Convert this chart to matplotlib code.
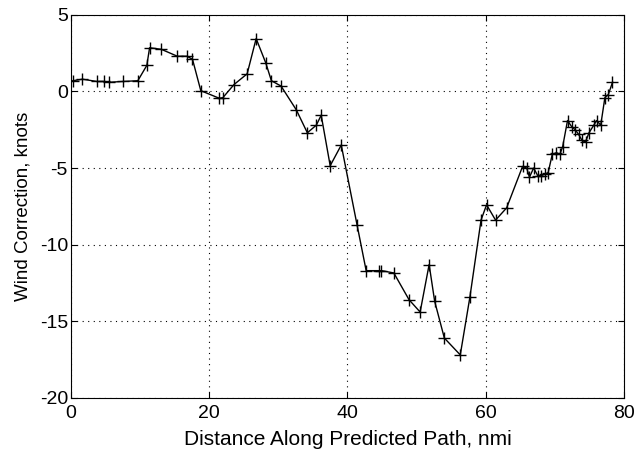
import matplotlib
matplotlib.use("Agg")
import matplotlib.pyplot as plt

# distance along path (nmi) and wind correction (knots)
distance = [0.3, 1.7, 3.8, 4.8, 5.6, 7.5, 9.7, 11.0, 11.4, 13.1, 15.4, 16.8,
            17.6, 18.8, 21.5, 22.0, 23.6, 25.5, 26.8, 28.2, 29.0, 30.4, 32.6,
            34.2, 35.5, 36.2, 37.5, 39.1, 41.4, 42.7, 44.6, 44.9, 46.7, 48.9,
            50.5, 51.8, 52.6, 54.0, 56.3, 57.7, 59.3, 60.1, 61.4, 63.0, 65.3,
            65.9, 66.3, 66.9, 67.5, 68.0, 68.5, 69.0, 69.6, 70.2, 70.7, 71.1,
            71.8, 72.4, 72.9, 73.4, 73.9, 74.4, 74.9, 75.6, 76.0, 76.6, 77.2,
            77.7, 78.3]
correction = [0.7, 0.8, 0.65, 0.65, 0.6, 0.65, 0.7, 1.7, 2.85, 2.75, 2.3, 2.3,
              2.1, 0.05, -0.45, -0.4, 0.45, 1.15, 3.45, 1.85, 0.7, 0.35, -1.2,
              -2.7, -2.2, -1.55, -4.85, -3.5, -8.75, -11.7, -11.7, -11.7,
              -11.85, -13.6, -14.4, -11.3, -13.7, -16.1, -17.2, -13.4, -8.4,
              -7.4, -8.4, -7.6, -4.9, -5.0, -5.6, -5.0, -5.5, -5.5, -5.4, -5.3,
              -4.1, -4.0, -4.1, -3.6, -1.9, -2.3, -2.5, -2.8, -3.2, -3.3, -2.7,
              -2.2, -1.9, -2.2, -0.4, -0.2, 0.6]

plt.rcParams['font.family'] = ['Liberation Sans', 'DejaVu Sans']
plt.rcParams['axes.unicode_minus'] = False

fig = plt.figure(figsize=(6.37, 4.5), dpi=100)
ax = fig.add_axes([0.111, 0.116, 0.869, 0.851])

ax.plot(distance, correction, color='k', linewidth=1.0, marker='+',
        markersize=9, markeredgewidth=1.0)

ax.set_xlim(0, 80)
ax.set_ylim(-20, 5)
ax.set_xticks([0, 20, 40, 60, 80])
ax.set_yticks([-20, -15, -10, -5, 0, 5])
ax.grid(True, color='k', linestyle=(0, (1, 4)), linewidth=0.8)
ax.tick_params(direction='in', top=True, right=True, length=4,
               labelsize=14, width=0.8)
ax.tick_params(axis='x', pad=5)
ax.tick_params(axis='y', pad=2)
for spine in ax.spines.values():
    spine.set_linewidth(0.8)

ax.set_xlabel('Distance Along Predicted Path, nmi', fontsize=15,
              va='center')
ax.xaxis.set_label_coords(0.5, -0.11)
ax.set_ylabel('Wind Correction, knots', fontsize=13.5, va='center')
ax.yaxis.set_label_coords(-0.086, 0.5)

fig.savefig('out.png', dpi=100)
